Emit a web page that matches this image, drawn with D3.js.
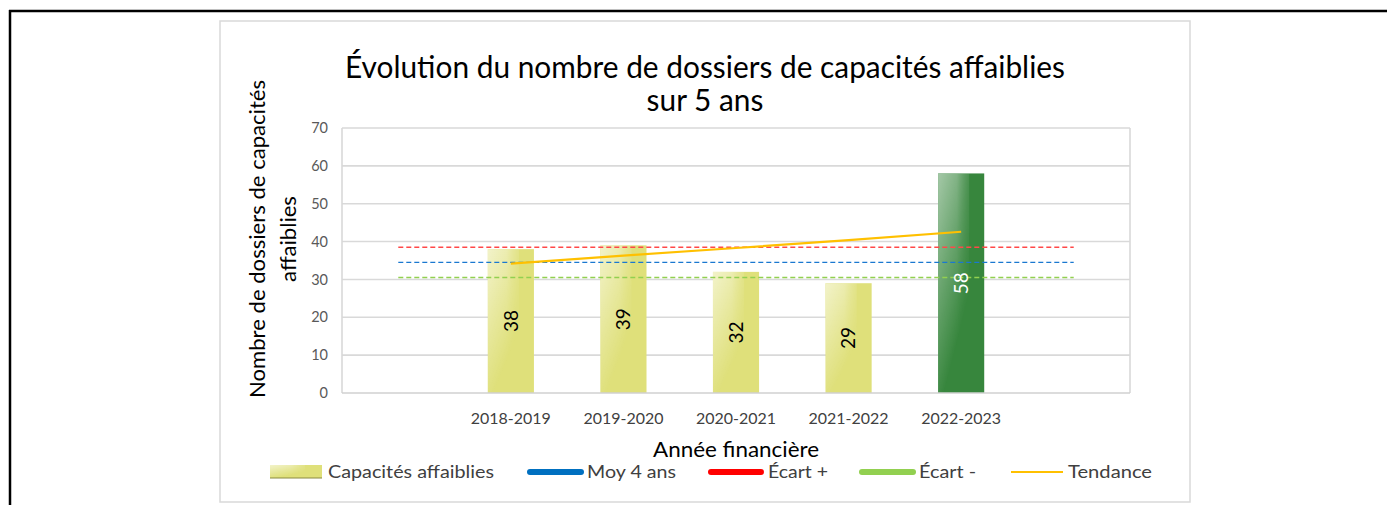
<!DOCTYPE html>
<html>
<head>
<meta charset="utf-8">
<script src="https://cdn.jsdelivr.net/npm/d3@7"></script>
<style>
  html, body { margin: 0; padding: 0; background: #ffffff; }
  svg { display: block; }
  text { font-family: Lato, "Open Sans", sans-serif; }
</style>
</head>
<body>
<svg id="chart" width="1387" height="505"></svg>
<script>
// ---- Data ----
const categories = ["", "2018-2019", "2019-2020", "2020-2021", "2021-2022", "2022-2023", " "];
const dossiers   = [null, 38, 39, 32, 29, 58, null];
const moyenne4ans = [34.5, 34.5, 34.5, 34.5, 34.5, 34.5, 34.5];
const ecartPlus   = [38.5, 38.5, 38.5, 38.5, 38.5, 38.5, 38.5];
const ecartMoins  = [30.5, 30.5, 30.5, 30.5, 30.5, 30.5, 30.5];
const tendance    = [null, 34.2, 36.3, 38.3, 40.4, 42.6, null];
const yTicks = [0, 10, 20, 30, 40, 50, 60, 70];
const currentYear = "2022-2023";
const titleLines = ["Évolution du nombre de dossiers de capacités affaiblies", "sur 5 ans"];
const yTitleLines = ["Nombre de dossiers de capacités", "affaiblies"];
const xTitle = "Année financière";
const legendItems = [
  { label: "Capacités affaiblies", type: "bar" },
  { label: "Moy 4 ans", type: "thick", color: "#0070C0" },
  { label: "Écart +", type: "thick", color: "#FF0000" },
  { label: "Écart -", type: "thick", color: "#92D050" },
  { label: "Tendance", type: "thin", color: "#FFC000" }
];

// ---- Layout ----
const svg = d3.select("#chart");
const plot = { left: 342, right: 1130, top: 128, bottom: 393 };

const x = d3.scaleBand().domain(categories).range([plot.left, plot.right]).padding(0);
const y = d3.scaleLinear().domain([0, 70]).range([plot.bottom, plot.top]);
const cx = c => x(c) + x.bandwidth() / 2;
const barW = x.bandwidth() * 0.41;

// fit a group of text lines: the first line gets width w, others keep same compression
function fitLines(sel, w) {
  const nodes = sel.nodes();
  const ratio = w / nodes[0].getComputedTextLength();
  nodes.forEach(n => {
    const nat = n.getComputedTextLength();
    n.setAttribute("textLength", nat * ratio);
    n.setAttribute("lengthAdjust", "spacingAndGlyphs");
  });
}

// ---- Defs (bar sheen) ----
const defs = svg.append("defs");
function sheen(id, op) {
  const g = defs.append("linearGradient").attr("id", id)
    .attr("x1", 0).attr("y1", 0).attr("x2", 0.55).attr("y2", 1);
  g.append("stop").attr("offset", 0).attr("stop-color", "#fff").attr("stop-opacity", op);
  g.append("stop").attr("offset", 0.45).attr("stop-color", "#fff").attr("stop-opacity", op * 0.45);
  g.append("stop").attr("offset", 0.85).attr("stop-color", "#fff").attr("stop-opacity", 0);
}
sheen("sheenY", 0.6);
sheen("sheenG", 0.55);
const fadeR = defs.append("linearGradient").attr("id", "fadeR").attr("x1", 0).attr("x2", 1).attr("y1", 0).attr("y2", 0);
fadeR.append("stop").attr("offset", 0.6).attr("stop-color", "#fff").attr("stop-opacity", 1);
fadeR.append("stop").attr("offset", 1).attr("stop-color", "#fff").attr("stop-opacity", 0.35);
defs.append("mask").attr("id", "maskR").attr("maskContentUnits", "objectBoundingBox")
  .append("rect").attr("width", 1).attr("height", 1).attr("fill", "url(#fadeR)");

// ---- Outer document frame ----
svg.append("line").attr("x1", 9).attr("x2", 1387).attr("y1", 11).attr("y2", 11)
  .attr("stroke", "#000").attr("stroke-width", 2.5);
svg.append("line").attr("x1", 10).attr("x2", 10).attr("y1", 10).attr("y2", 505)
  .attr("stroke", "#000").attr("stroke-width", 2.5);

// ---- Chart frame ----
svg.append("rect").attr("x", 220).attr("y", 21).attr("width", 970).attr("height", 481)
  .attr("fill", "#fff").attr("stroke", "#d9d9d9").attr("stroke-width", 1.5);

// ---- Title ----
const title = svg.append("g").selectAll("text").data(titleLines).join("text")
  .attr("x", 705).attr("y", (d, i) => 78 + i * 33)
  .attr("text-anchor", "middle").attr("font-size", 30).attr("fill", "#000")
  .text(d => d);
fitLines(title, 720);

// ---- Gridlines ----
svg.append("g").selectAll("line").data(yTicks.filter(t => t > 0)).join("line")
  .attr("x1", plot.left).attr("x2", plot.right)
  .attr("y1", d => y(d)).attr("y2", d => y(d))
  .attr("stroke", "#d9d9d9").attr("stroke-width", 1.6);

// plot border right + left axis
svg.append("line").attr("x1", plot.right).attr("x2", plot.right).attr("y1", plot.top).attr("y2", plot.bottom)
  .attr("stroke", "#d9d9d9").attr("stroke-width", 1.6);
svg.append("line").attr("x1", plot.left).attr("x2", plot.left).attr("y1", plot.top).attr("y2", plot.bottom)
  .attr("stroke", "#d9d9d9").attr("stroke-width", 1.6);

// ---- Y axis ticks ----
const yAxis = svg.append("g").attr("transform", `translate(${plot.left},0)`)
  .call(d3.axisLeft(y).tickValues(yTicks).tickSize(0).tickPadding(14));
yAxis.select(".domain").remove();
yAxis.selectAll("text").attr("font-size", 14.5).attr("fill", "#595959")
  .attr("font-family", "Lato, 'Open Sans', sans-serif");

// ---- Bars ----
const barData = categories.map((c, i) => ({ c, v: dossiers[i] })).filter(d => d.v != null);
const bars = svg.append("g");
bars.selectAll("rect.base").data(barData).join("rect").attr("class", "base")
  .attr("x", d => cx(d.c) - barW / 2).attr("width", barW)
  .attr("y", d => y(d.v)).attr("height", d => y(0) - y(d.v))
  .attr("fill", d => d.c === currentYear ? "#37863D" : "#DFE07A");
bars.selectAll("rect.sheen").data(barData).join("rect").attr("class", "sheen")
  .attr("x", d => cx(d.c) - barW / 2).attr("width", barW * 0.68)
  .attr("y", d => y(d.v)).attr("height", d => y(0) - y(d.v))
  .attr("mask", "url(#maskR)")
  .attr("fill", d => d.c === currentYear ? "url(#sheenG)" : "url(#sheenY)");

// ---- X baseline ----
svg.append("line").attr("x1", plot.left).attr("x2", plot.right).attr("y1", plot.bottom).attr("y2", plot.bottom)
  .attr("stroke", "#d0d0d0").attr("stroke-width", 1.6);

// ---- Reference dashed lines ----
function refLine(vals, color) {
  const pts = categories.map((c, i) => [cx(c), vals[i]]).filter(p => p[1] != null);
  svg.append("path").datum(pts)
    .attr("d", d3.line().x(p => p[0]).y(p => y(p[1])))
    .attr("fill", "none").attr("stroke", color).attr("stroke-width", 1.4)
    .attr("stroke-dasharray", "5,3");
}
refLine(ecartPlus, "#FF4848");
refLine(moyenne4ans, "#1A78D0");
refLine(ecartMoins, "#92D050");

// ---- Trend ----
const trendPts = categories.map((c, i) => [cx(c), tendance[i]]).filter(p => p[1] != null);
svg.append("path").datum(trendPts)
  .attr("d", d3.line().x(p => p[0]).y(p => y(p[1])))
  .attr("fill", "none").attr("stroke", "#FFC000").attr("stroke-width", 2.2);

// ---- Data labels ----
svg.append("g").selectAll("text").data(barData).join("text")
  .attr("transform", d => `translate(${cx(d.c)},${(y(d.v) + y(0)) / 2}) rotate(-90)`)
  .attr("text-anchor", "middle").attr("dy", "0.36em")
  .attr("font-size", 19)
  .attr("fill", d => d.c === currentYear ? "#ffffff" : "#000000")
  .text(d => d.v);

// ---- X tick labels ----
svg.append("g").selectAll("text").data(categories.filter(c => c.trim() !== "")).join("text")
  .attr("x", d => cx(d)).attr("y", 424)
  .attr("text-anchor", "middle").attr("font-size", 15.5).attr("fill", "#404040")
  .attr("textLength", 80).attr("lengthAdjust", "spacingAndGlyphs")
  .text(d => d);

// ---- Axis titles ----
svg.append("text").attr("x", (plot.left + plot.right) / 2).attr("y", 457)
  .attr("text-anchor", "middle").attr("font-size", 21).attr("fill", "#000")
  .attr("textLength", 166).attr("lengthAdjust", "spacingAndGlyphs")
  .text(xTitle);

const yTitle = svg.append("g").selectAll("text").data(yTitleLines).join("text")
  .attr("transform", (d, i) => `translate(${265 + i * 31},239) rotate(-90)`)
  .attr("text-anchor", "middle").attr("font-size", 21).attr("fill", "#000")
  .text(d => d);
fitLines(yTitle, 318);

// ---- Legend ----
const legendX = [270, 527, 708, 859, 1011];
const legendW = [52, 57, 56, 57, 52];
const legendTextX = [328, 587, 768, 919, 1068];
const legendTextW = [166, 89, 60, 57, 84];
const ly = 472;
const lg = svg.append("g");
legendItems.forEach((it, i) => {
  if (it.type === "bar") {
    lg.append("rect").attr("x", legendX[i]).attr("y", ly - 7).attr("width", legendW[i]).attr("height", 13)
      .attr("fill", "#DFE07A");
    lg.append("rect").attr("x", legendX[i]).attr("y", ly - 7).attr("width", legendW[i] * 0.68).attr("height", 13)
      .attr("mask", "url(#maskR)").attr("fill", "url(#sheenY)");
    lg.append("line").attr("x1", legendX[i]).attr("x2", legendX[i] + legendW[i]).attr("y1", ly + 6).attr("y2", ly + 6)
      .attr("stroke", "#8a8a40").attr("stroke-width", 1);
  } else if (it.type === "thick") {
    lg.append("line").attr("x1", legendX[i] + 3).attr("x2", legendX[i] + legendW[i] - 3).attr("y1", ly).attr("y2", ly)
      .attr("stroke", it.color).attr("stroke-width", 6).attr("stroke-linecap", "round");
  } else {
    lg.append("line").attr("x1", legendX[i]).attr("x2", legendX[i] + legendW[i]).attr("y1", ly).attr("y2", ly)
      .attr("stroke", it.color).attr("stroke-width", 2);
  }
  lg.append("text").attr("x", legendTextX[i]).attr("y", ly).attr("dy", "0.36em")
    .attr("font-size", 18).attr("fill", "#404040")
    .attr("textLength", legendTextW[i]).attr("lengthAdjust", "spacingAndGlyphs")
    .text(it.label);
});
</script>
</body>
</html>
